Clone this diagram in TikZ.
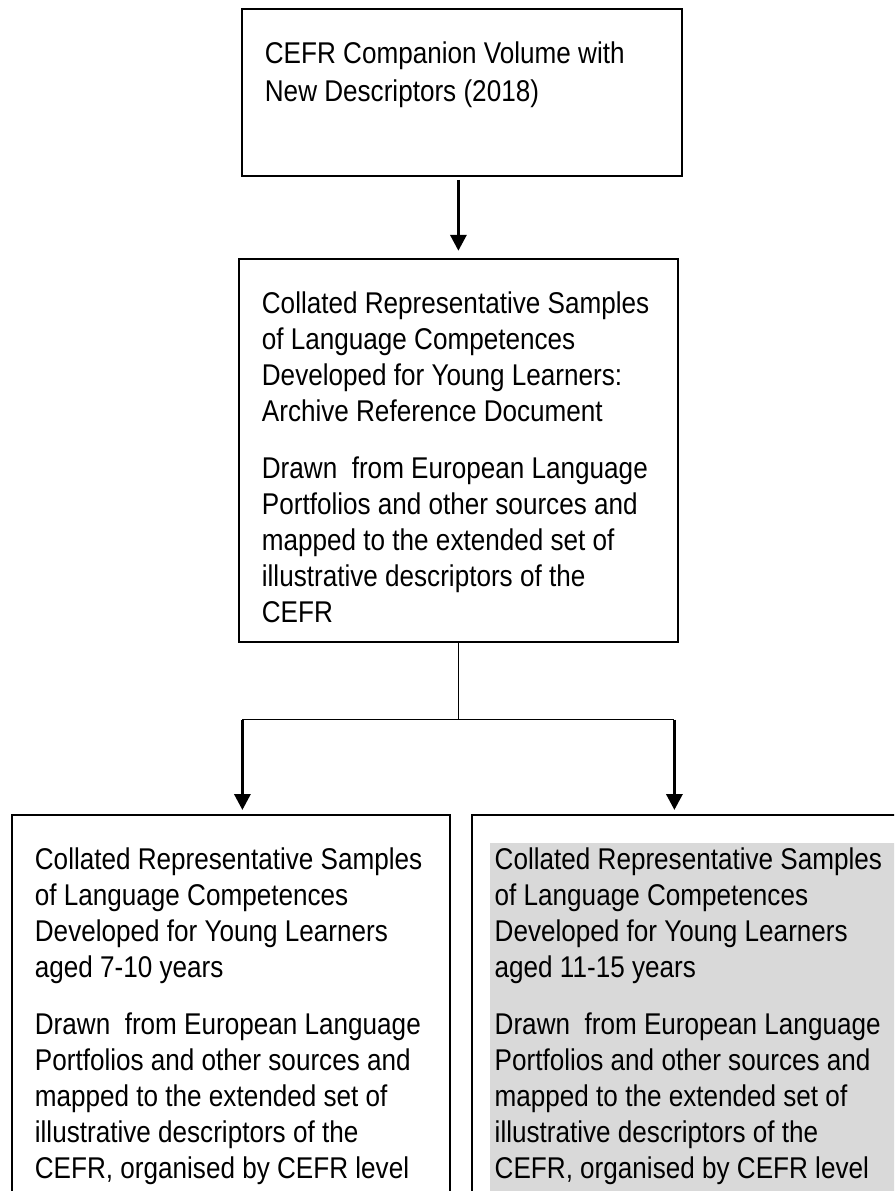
\documentclass[tikz,border=0pt]{standalone}
\usepackage{fontspec}
\setmainfont[FakeStretch=0.87]{Liberation Sans}
\usetikzlibrary{arrows.meta, positioning}

\definecolor{hlgray}{RGB}{217,217,217}
\newcommand{\boxtext}[3]{\parbox[c][#2][t]{#1}{\raggedright
  \fontsize{30pt}{36pt}\selectfont\setlength{\parskip}{21pt}\rule{0pt}{55pt}#3}}

\begin{document}
\begin{tikzpicture}[
  x=1pt, y=-1pt,
  box/.style={draw, line width=1.8pt, inner xsep=23pt, inner ysep=0pt, anchor=north west},
  link/.style={draw, line width=1.1pt},
  arr/.style={draw, line width=3.3pt, -{Triangle[length=16pt,width=16pt]}, shorten >=4pt}
]
\useasboundingbox (0,0) rectangle (894,1191);
\clip (0,0) rectangle (894,1191);

\node[box] (cefr) at (241,8) {\boxtext{394pt}{167pt}{CEFR Companion Volume with\\[2pt] New Descriptors (2018)}};
\node[box, below=81pt of cefr.south west, anchor=north west, xshift=-3pt] (archive) {\boxtext{393pt}{383pt}{%
  Collated Representative Samples\\ of Language Competences\\ Developed for Young Learners:\\ Archive Reference Document\par
  Drawn\ \ from European Language\\ Portfolios and other sources and\\ mapped to the extended set of\\ illustrative descriptors of the\\ CEFR}};
\node[box] (young) at (11,814) {\boxtext{392pt}{420pt}{%
  Collated Representative Samples\\ of Language Competences\\ Developed for Young Learners\\ aged 7-10 years\par
  Drawn\ \ from European Language\\ Portfolios and other sources and\\ mapped to the extended set of\\ illustrative descriptors of the\\ CEFR, organised by CEFR level}};
\node[box, right=20pt of young.north east, anchor=north west,
  path picture={\fill[hlgray] ([xshift=18pt,yshift=-28pt]path picture bounding box.north west) rectangle (path picture bounding box.south east);}
] (teen) {\boxtext{392pt}{420pt}{%
  Collated Representative Samples\\ of Language Competences\\ Developed for Young Learners\\ aged 11-15 years\par
  Drawn\ \ from European Language\\ Portfolios and other sources and\\ mapped to the extended set of\\ illustrative descriptors of the\\ CEFR, organised by CEFR level}};

\coordinate[below=77pt of archive.south] (split);
\coordinate[left=216pt of split] (lt);
\coordinate[right=216pt of split] (rt);

\draw[arr, shorten <=3pt, shorten >=7pt] (archive.north |- cefr.south) -- (archive.north);
\draw[link] (archive.south) -- (split);
\draw[link] (lt) -- (rt);
\draw[arr] (lt) -- (lt |- young.north);
\draw[arr] (rt) -- (rt |- teen.north);
\end{tikzpicture}
\end{document}
